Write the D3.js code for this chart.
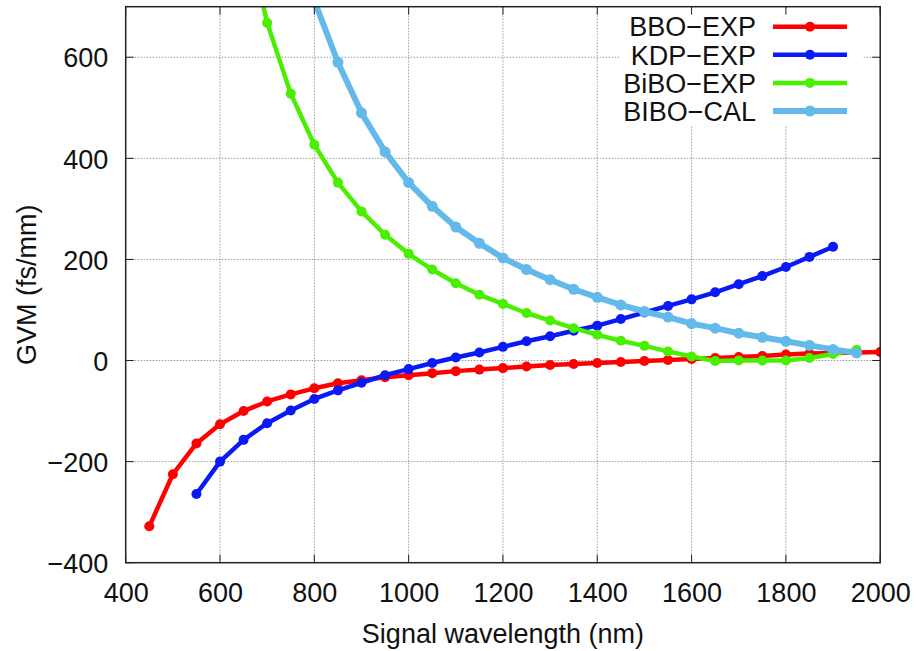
<!DOCTYPE html>
<html>
<head>
<meta charset="utf-8">
<script src="https://cdn.jsdelivr.net/npm/d3@7"></script>
<style>
  html, body { margin: 0; padding: 0; background: #fff; }
  svg { display: block; font-family: "Liberation Sans", Arial, Helvetica, sans-serif; }
</style>
</head>
<body>
<svg id="chart" width="919" height="651"></svg>
<script>
// ---- data ----
const bboWavelength = [450,500,550,600,650,700,750,800,850,900,950,1000,1050,1100,1150,1200,1250,1300,1350,1400,1450,1500,1550,1600,1650,1700,1750,1800,1850,1900,1950,2000];
const bboGVM        = [-328,-225,-164,-126,-100,-81,-67,-55,-45,-39,-33,-29,-25,-21,-18,-15,-12,-9,-7,-5,-3,-1,1,3,5,7,9,12,14,15,16,17];

const kdpWavelength = [550,600,650,700,750,800,850,900,950,1000,1050,1100,1150,1200,1250,1300,1350,1400,1450,1500,1550,1600,1650,1700,1750,1800,1850,1900];
const kdpGVM        = [-264,-200,-157,-124,-99,-76,-59,-44,-29,-17,-5,6,16,27,38,48,59,69,82,95,108,121,135,151,167,185,205,225];

const biboExpWavelength = [650,700,750,800,850,900,950,1000,1050,1100,1150,1200,1250,1300,1350,1400,1450,1500,1550,1600,1650,1700,1750,1800,1850,1900,1950];
const biboExpGVM        = [868,668,528,427,352,295,249,211,180,153,130,112,94,79,64,51,39,29,18,8,-1,0,0,0,5,13,21];

const biboCalWavelength = [800,850,900,950,1000,1050,1100,1150,1200,1250,1300,1350,1400,1450,1500,1550,1600,1650,1700,1750,1800,1850,1900,1950];
const biboCalGVM        = [712,590,490,413,352,305,264,232,203,180,160,141,125,110,97,86,73,64,54,46,38,30,22,15];

const seriesNames  = ["BBO\u2212EXP", "KDP\u2212EXP", "BiBO\u2212EXP", "BIBO\u2212CAL"];
const seriesColors = ["#ff0000", "#0a1af5", "#48f000", "#62b9ea"];
const xTicks = [400,600,800,1000,1200,1400,1600,1800,2000];
const yTicks = [-400,-200,0,200,400,600];
const xLabel = "Signal wavelength (nm)";
const yLabel = "GVM (fs/mm)";

// ---- layout ----
const W = 919, H = 651;
const pL = 125.7, pR = 880.2, pT = 6.7, pB = 562.7;

const svg = d3.select("#chart");
const x = d3.scaleLinear().domain([400, 2000]).range([pL, pR]);
const y = d3.scaleLinear().domain([-400, 700]).range([pB, pT]);

svg.append("rect").attr("width", W).attr("height", H).attr("fill", "#fff");

// clip
svg.append("defs").append("clipPath").attr("id", "plotclip")
  .append("rect").attr("x", pL).attr("y", pT).attr("width", pR - pL).attr("height", pB - pT);

// grid
const grid = svg.append("g").attr("stroke", "#9a9a9a").attr("stroke-width", 1).attr("stroke-dasharray", "1.5,1.5");
grid.selectAll("line.gx").data(xTicks.filter(d => d > 400 && d < 2000)).join("line")
  .attr("class", "gx")
  .attr("x1", d => x(d)).attr("x2", d => x(d)).attr("y1", pT).attr("y2", pB);
grid.selectAll("line.gy").data(yTicks.filter(d => d > -400)).join("line")
  .attr("class", "gy")
  .attr("x1", pL).attr("x2", pR).attr("y1", d => y(d)).attr("y2", d => y(d));

// series
const series = [
  { name: seriesNames[0], color: seriesColors[0], xs: bboWavelength, ys: bboGVM, lw: 4.5, r: 5 },
  { name: seriesNames[1], color: seriesColors[1], xs: kdpWavelength, ys: kdpGVM, lw: 4.5, r: 5 },
  { name: seriesNames[2], color: seriesColors[2], xs: biboExpWavelength, ys: biboExpGVM, lw: 4.5, r: 5 },
  { name: seriesNames[3], color: seriesColors[3], xs: biboCalWavelength, ys: biboCalGVM, lw: 6, r: 5.5 }
];

const line = d3.line().x(d => x(d[0])).y(d => y(d[1]));
const plot = svg.append("g").attr("clip-path", "url(#plotclip)");
series.forEach(s => {
  const pts = s.xs.map((v, i) => [v, s.ys[i]]);
  plot.append("path").datum(pts)
    .attr("d", line).attr("fill", "none")
    .attr("stroke", s.color).attr("stroke-width", s.lw)
    .attr("stroke-linejoin", "round").attr("stroke-linecap", "round");
  plot.append("g").selectAll("circle").data(pts).join("circle")
    .attr("cx", d => x(d[0])).attr("cy", d => y(d[1])).attr("r", s.r)
    .attr("fill", s.color);
});

// legend (opaque box)
const legX = 620, legY = 8, legW = 243, legH = 118;
svg.append("rect").attr("x", legX).attr("y", legY).attr("width", legW).attr("height", legH).attr("fill", "#fff");
const leg = svg.append("g");
series.forEach((s, i) => {
  const cy = 26.7 + i * 28.1;
  leg.append("text").attr("x", 756).attr("y", cy).attr("dy", "0.36em")
    .attr("text-anchor", "end").attr("font-size", 27).attr("fill", "#111").text(s.name);
  leg.append("line").attr("x1", 773).attr("x2", 847).attr("y1", cy).attr("y2", cy)
    .attr("stroke", s.color).attr("stroke-width", s.lw);
  leg.append("circle").attr("cx", 810).attr("cy", cy).attr("r", s.r).attr("fill", s.color);
});

// axes: ticks inward, mirrored
const tickLen = 8;
const ax = svg.append("g").attr("stroke", "#222").attr("stroke-width", 1);
xTicks.forEach(t => {
  ax.append("line").attr("x1", x(t)).attr("x2", x(t)).attr("y1", pB).attr("y2", pB - tickLen);
  ax.append("line").attr("x1", x(t)).attr("x2", x(t)).attr("y1", pT).attr("y2", pT + tickLen);
});
yTicks.forEach(t => {
  ax.append("line").attr("x1", pL).attr("x2", pL + tickLen).attr("y1", y(t)).attr("y2", y(t));
  ax.append("line").attr("x1", pR).attr("x2", pR - tickLen).attr("y1", y(t)).attr("y2", y(t));
});

// tick labels via d3 axes (lines hidden, labels kept)
const xAxis = svg.append("g").attr("transform", `translate(0,${pB})`)
  .call(d3.axisBottom(x).tickValues(xTicks).tickSize(0).tickPadding(0).tickFormat(d3.format("d")));
xAxis.select(".domain").remove();
xAxis.selectAll("text").attr("y", 39).attr("dy", null).attr("font-size", 27).attr("fill", "#111")
  .attr("font-family", "Liberation Sans, Arial, sans-serif");

const yAxis = svg.append("g").attr("transform", `translate(${pL},0)`)
  .call(d3.axisLeft(y).tickValues(yTicks).tickSize(0).tickPadding(0));
yAxis.select(".domain").remove();
yAxis.selectAll("text").attr("x", -17.4).attr("dy", "0.36em").attr("font-size", 27).attr("fill", "#111")
  .attr("font-family", "Liberation Sans, Arial, sans-serif");

// border
svg.append("rect").attr("x", pL).attr("y", pT).attr("width", pR - pL).attr("height", pB - pT)
  .attr("fill", "none").attr("stroke", "#222").attr("stroke-width", 1.5);

// axis titles
svg.append("text").attr("x", (pL + pR) / 2).attr("y", 642.7)
  .attr("text-anchor", "middle").attr("font-size", 27).attr("fill", "#111").text(xLabel);
svg.append("text").attr("transform", `translate(36,${(pT + pB) / 2}) rotate(-90)`)
  .attr("text-anchor", "middle").attr("font-size", 27).attr("fill", "#111").text(yLabel);
</script>
</body>
</html>
